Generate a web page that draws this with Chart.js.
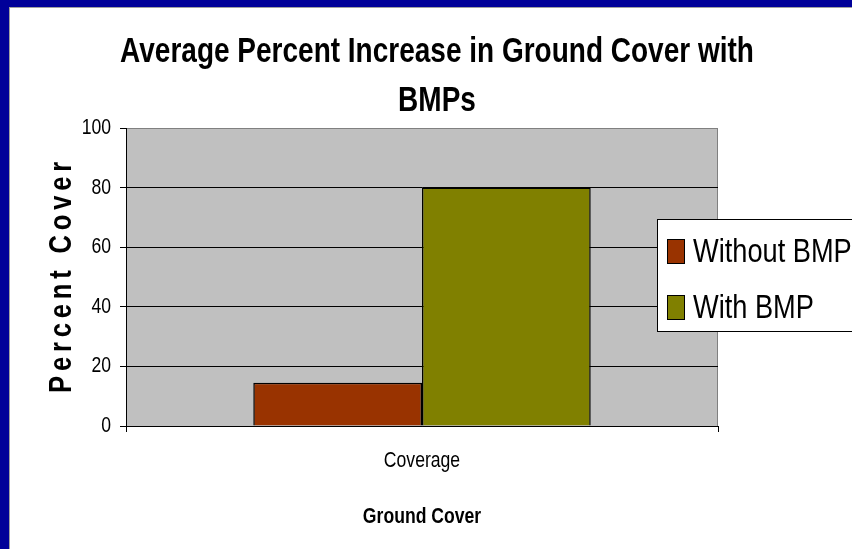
<!DOCTYPE html>
<html>
<head>
<meta charset="utf-8">
<script src="https://cdn.jsdelivr.net/npm/chart.js@4.4.1/dist/chart.umd.min.js"></script>
<style>
  html, body { margin: 0; padding: 0; background: #000099; overflow: hidden; }
  #wrap { position: absolute; left: 9px; top: 7px; width: 843px; height: 542px; background: #fff;
          border-left: 1px solid #a0a0a0; border-top: 1px solid #a0a0a0; box-sizing: border-box; }
</style>
</head>
<body>
<div id="wrap"><canvas id="chart"></canvas></div>
<script>
// chart data
var categories = ['Coverage'];
var withoutBmp = [14.5];
var withBmp = [80];
var seriesNames = ['Without BMP', 'With BMP'];
var seriesColors = ['#993300', '#808000'];
var yTicks = [0, 20, 40, 60, 80, 100];

var FONT = "'Liberation Sans', Arial, sans-serif";
var NARROW = 0.8; // the original uses a narrow face (Arial Narrow look)

var ctx = document.getElementById('chart').getContext('2d');

// squeeze every drawn string horizontally around its anchor point
var baseFillText = ctx.fillText;
ctx.fillText = function(text, x, y, maxWidth) {
    this.save();
    this.translate(x, y);
    this.scale(NARROW, 1);
    if (maxWidth === undefined) {
        baseFillText.call(this, text, 0, 0);
    } else {
        baseFillText.call(this, text, 0, 0, maxWidth / NARROW);
    }
    this.restore();
};

// gray plot background + border, drawn before the grid
var plotBackground = {
    id: 'plotBackground',
    beforeDraw: function(chart) {
        var a = chart.chartArea, c = chart.ctx;
        c.save();
        c.fillStyle = '#c0c0c0';
        c.fillRect(a.left, a.top, a.right - a.left, a.bottom - a.top);
        c.strokeStyle = '#808080';
        c.lineWidth = 1;
        c.strokeRect(a.left + 0.5, a.top + 0.5, a.right - a.left - 1, a.bottom - a.top);
        c.restore();
    }
};

// spaced y title and the Excel-style legend box that overlaps the plot
var extras = {
    id: 'extras',
    afterDraw: function(chart) {
        var a = chart.chartArea, c = chart.ctx;
        c.save();
        c.translate(52, (a.top + a.bottom) / 2);
        c.rotate(-Math.PI / 2);
        c.font = 'bold 32px ' + FONT;
        c.letterSpacing = '6px';
        c.fillStyle = '#000';
        c.textAlign = 'center';
        c.textBaseline = 'middle';
        c.fillText('Percent Cover', 2, 0);
        c.restore();

        c.save();
        c.fillStyle = '#fff';
        c.strokeStyle = '#000';
        c.lineWidth = 1;
        c.fillRect(647.5, 211.5, 300, 112);
        c.strokeRect(647.5, 211.5, 300, 112);
        c.font = '34px ' + FONT;
        c.textBaseline = 'middle';
        chart.data.datasets.forEach(function(ds, i) {
            var y = 231.5 + i * 56;
            c.fillStyle = ds.backgroundColor;
            c.fillRect(657.5, y, 17, 24);
            c.strokeRect(657.5, y, 17, 24);
            c.fillStyle = '#000';
            c.fillText(ds.label, 683, y + 13);
        });
        c.restore();
    }
};

new Chart(ctx, {
    type: 'bar',
    data: {
        labels: categories,
        datasets: [{
            label: seriesNames[0],
            data: withoutBmp,
            backgroundColor: seriesColors[0],
            borderColor: '#000',
            borderWidth: 1.5
        }, {
            label: seriesNames[1],
            data: withBmp,
            backgroundColor: seriesColors[1],
            borderColor: '#000',
            borderWidth: 1.5
        }]
    },
    options: {
        responsive: true,
        maintainAspectRatio: false,
        animation: false,
        categoryPercentage: 0.57,
        barPercentage: 1.0,
        layout: { padding: { left: 12, right: 0, top: 0, bottom: 0 } },
        plugins: {
            legend: { display: false },
            tooltip: { enabled: false },
            title: {
                display: true,
                text: ['Average Percent Increase in Ground Cover with', 'BMPs'],
                color: '#000',
                font: { family: FONT, size: 35, weight: 'bold', lineHeight: 1.4 },
                padding: { top: 20, bottom: 2 }
            }
        },
        scales: {
            x: {
                grid: {
                    offset: true,
                    drawOnChartArea: false,
                    tickLength: 6,
                    tickColor: '#000'
                },
                border: { color: '#000' },
                ticks: {
                    color: '#000',
                    padding: 16,
                    font: { family: FONT, size: 22 }
                },
                title: {
                    display: true,
                    text: 'Ground Cover',
                    color: '#000',
                    font: { family: FONT, size: 22, weight: 'bold' },
                    padding: { top: 0, bottom: 19 }
                },
                afterFit: function(scale) { scale.height = 123; }
            },
            y: {
                min: 0,
                max: 100,
                afterBuildTicks: function(scale) {
                    scale.ticks = yTicks.map(function(v) { return { value: v }; });
                },
                grid: {
                    color: function(c) { return c.tick && c.tick.value === 100 ? '#808080' : '#000'; },
                    tickColor: '#000',
                    tickLength: 6
                },
                border: { color: '#000' },
                ticks: {
                    color: '#000',
                    padding: 9,
                    font: { family: FONT, size: 22 }
                },
                afterFit: function(scale) { scale.width = 104; }
            },
            spacer: {
                type: 'linear',
                position: 'right',
                grid: { display: false },
                border: { display: false },
                ticks: { display: false },
                afterFit: function(scale) { scale.width = 134; }
            }
        }
    },
    plugins: [plotBackground, extras]
});
</script>
</body>
</html>
